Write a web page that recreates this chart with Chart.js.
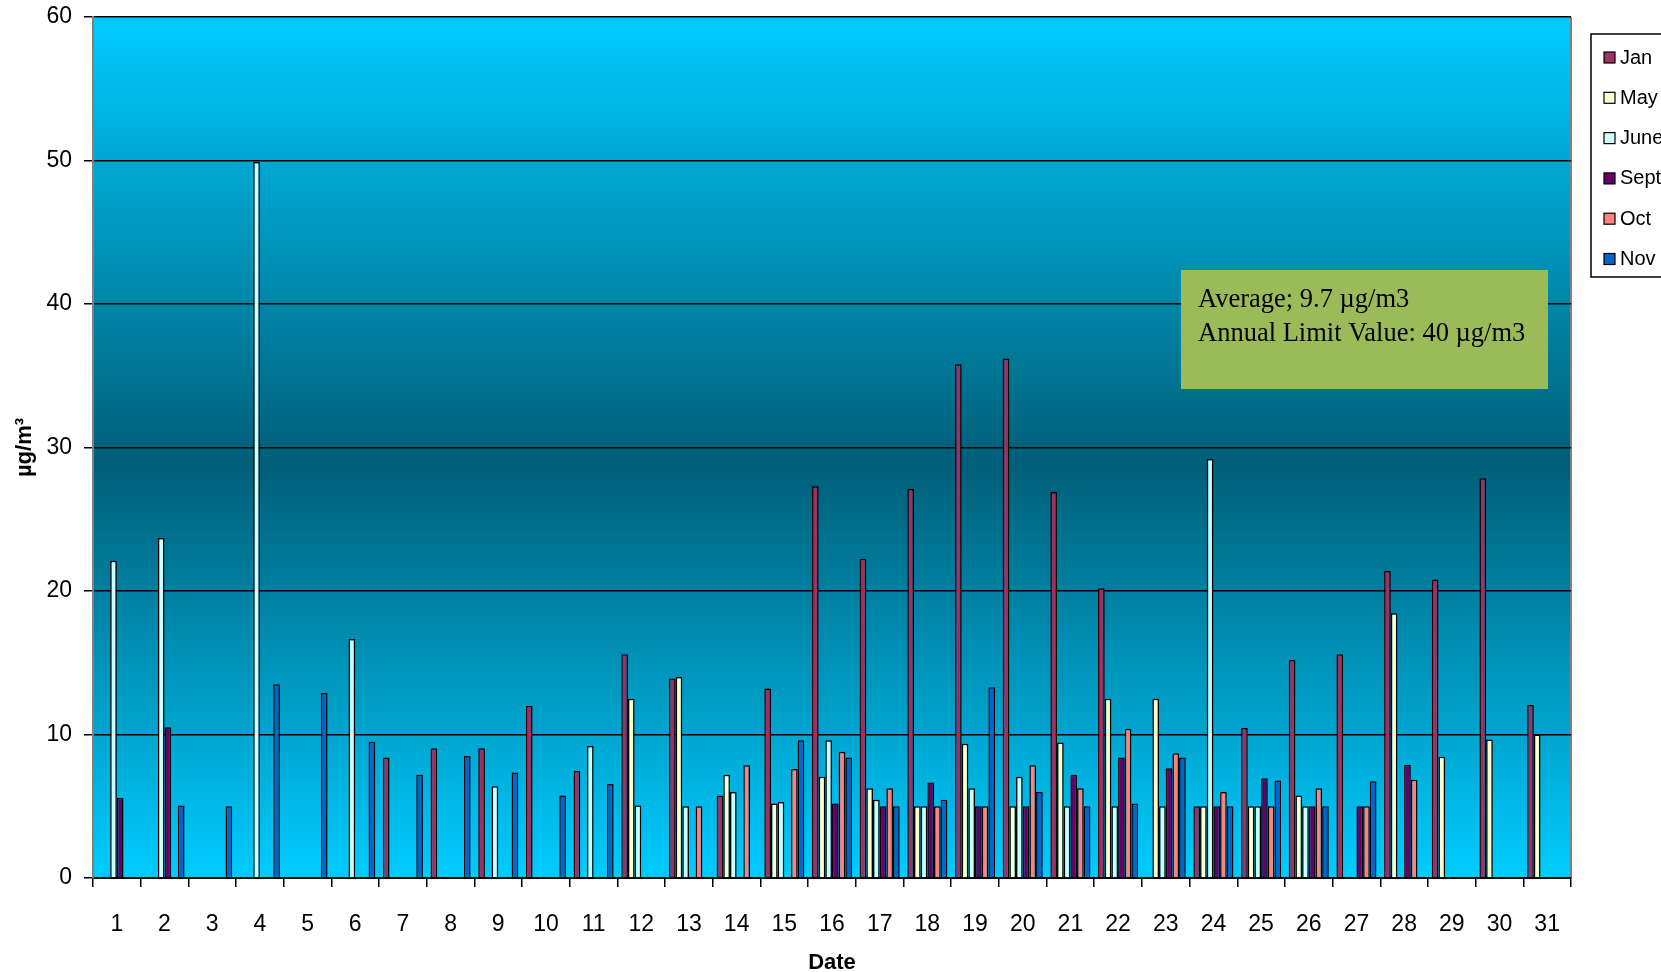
<!DOCTYPE html>
<html>
<head>
<meta charset="utf-8">
<script src="https://cdn.jsdelivr.net/npm/chart.js@4.4.1/dist/chart.umd.min.js"></script>
<style>
  html, body { margin: 0; padding: 0; background: #fff; }
  #wrap { width: 1661px; height: 972px; }
</style>
</head>
<body>
<div id="wrap"><canvas id="grafico" width="1661" height="972"></canvas></div>
<script>
const dates = ['1','2','3','4','5','6','7','8','9','10','11','12','13','14','15','16',
  '17','18','19','20','21','22','23','24','25','26','27','28','29','30','31'];

const jan  = [null, null, null, null, null, null, 8.4, 9.05, 9.05, 12.0, 7.45, 15.6, 13.9, 5.75, 13.2, 27.3,
  22.25, 27.1, 35.8, 36.2, 26.9, 20.2, null, 5.0, 10.45, 15.2, 15.6, 21.4, 20.8, 27.85, 12.05];
const may  = [null, null, null, null, null, null, null, null, null, null, null, 12.5, 14.0, 7.2, 5.2, 7.05,
  6.25, 5.0, 9.35, 5.0, 9.45, 12.5, 12.5, 5.0, 5.0, 5.75, null, 18.45, 8.45, 9.65, 10.0];
const june = [22.1, 23.7, null, 49.9, null, 16.65, null, null, 6.4, null, 9.2, 5.05, 5.0, 6.0, 5.3, 9.6,
  5.45, 5.0, 6.25, 7.05, 5.0, 5.0, 5.0, 29.2, 5.0, 5.0, null, null, null, null, null];
const sept = [5.6, 10.5, null, null, null, null, null, null, null, null, null, null, null, null, null, 5.2,
  5.0, 6.65, 5.0, 5.0, 7.2, 8.4, 7.65, 5.0, 6.95, 5.0, 5.0, 7.9, null, null, null];
const oct  = [null, null, null, null, null, null, null, null, null, null, null, null, 5.0, 7.85, 7.6, 8.8,
  6.25, 5.0, 5.0, 7.85, 6.25, 10.4, 8.7, 6.0, 5.0, 6.25, 5.0, 6.85, null, null, null];
const nov  = [null, 5.05, 5.0, 13.5, 12.9, 9.5, 7.2, 8.5, 7.35, 5.75, 6.55, null, null, null, 9.6, 8.4,
  5.0, 5.45, 13.3, 6.0, 5.0, 5.2, 8.4, 5.0, 6.8, 5.0, 6.75, null, null, null, null];

const yTicks = [0, 10, 20, 30, 40, 50, 60];
const noteLines = ['Average; 9.7 µg/m3', 'Annual Limit Value: 40 µg/m3'];

const series = [
  { label: 'Jan',  data: jan,  color: '#993366' },
  { label: 'May',  data: may,  color: '#FFFFCC' },
  { label: 'June', data: june, color: '#CCFFFF' },
  { label: 'Sept', data: sept, color: '#660066' },
  { label: 'Oct',  data: oct,  color: '#FF8080' },
  { label: 'Nov',  data: nov,  color: '#0066CC' }
];

const sans = '"Liberation Sans", Arial, sans-serif';
const serif = '"Liberation Serif", "Times New Roman", serif';

// fondo degradado del area de trazado
const fondo = {
  id: 'fondo',
  beforeDraw(chart) {
    const a = chart.chartArea;
    const ctx = chart.ctx;
    const g = ctx.createLinearGradient(0, a.top, 0, a.bottom);
    g.addColorStop(0, '#00CCFF');
    g.addColorStop(0.52, '#005E78');
    g.addColorStop(1, '#00CCFF');
    ctx.save();
    ctx.fillStyle = g;
    ctx.fillRect(a.left, a.top, a.right - a.left, a.bottom - a.top);
    ctx.strokeStyle = '#808080';
    ctx.lineWidth = 2;
    ctx.beginPath();
    ctx.moveTo(a.right, a.top);
    ctx.lineTo(a.right, a.bottom);
    ctx.stroke();
    ctx.restore();
  }
};

// leyenda y cuadro de texto
const extras = {
  id: 'extras',
  afterDraw(chart) {
    const ctx = chart.ctx;
    ctx.save();
    // cuadro verde
    ctx.fillStyle = '#9BBB59';
    ctx.fillRect(1181, 270, 367, 119);
    ctx.fillStyle = '#000';
    ctx.font = '26.5px ' + serif;
    ctx.textBaseline = 'alphabetic';
    ctx.textAlign = 'left';
    ctx.fillText(noteLines[0], 1198, 307);
    ctx.fillText(noteLines[1], 1198, 341);

    // leyenda
    ctx.fillStyle = '#fff';
    ctx.fillRect(1591, 34, 80, 243);
    ctx.strokeStyle = '#000';
    ctx.lineWidth = 1.5;
    ctx.strokeRect(1591, 34, 80, 243);
    ctx.font = '20px ' + sans;
    ctx.textBaseline = 'middle';
    series.forEach((s, i) => {
      const y = 58 + i * 40.3;
      ctx.fillStyle = s.color;
      ctx.fillRect(1604, y - 6, 11, 11);
      ctx.strokeStyle = '#000';
      ctx.lineWidth = 1.2;
      ctx.strokeRect(1604, y - 6, 11, 11);
      ctx.fillStyle = '#000';
      ctx.fillText(s.label, 1620, y);
    });
    ctx.restore();
  }
};

new Chart(document.getElementById('grafico'), {
  type: 'bar',
  data: {
    labels: dates,
    datasets: series.map(s => ({
      label: s.label,
      data: s.data,
      backgroundColor: s.color,
      borderColor: '#000',
      borderWidth: 1.5,
      categoryPercentage: 0.84,
      barPercentage: 1.0
    }))
  },
  options: {
    responsive: false,
    animation: false,
    layout: { padding: { top: 17, right: 90, bottom: 0, left: 0 } },
    plugins: {
      legend: { display: false },
      tooltip: { enabled: false }
    },
    scales: {
      x: {
        offset: true,
        grid: { offset: true, drawOnChartArea: false, drawTicks: true, tickLength: 9, color: '#000', lineWidth: 1.5 },
        border: { color: '#000', width: 2 },
        ticks: { color: '#000', font: { family: sans, size: 23 }, padding: 24, maxRotation: 0, autoSkip: false },
        title: { display: true, text: 'Date', color: '#000', font: { family: sans, size: 22, weight: 'bold', lineHeight: 1.0 }, padding: { top: 0, bottom: -2 } },
        afterFit(scale) {
          scale.height = 94;
          scale.paddingLeft = 0;
          scale.paddingRight = 0;
        }
      },
      y: {
        min: 0,
        max: 60,
        afterBuildTicks(scale) { scale.ticks = yTicks.map(v => ({ value: v })); },
        grid: { color: '#000', lineWidth: 1.5, drawTicks: true, tickLength: 9 },
        border: { color: '#808080', width: 2 },
        ticks: { color: '#000', font: { family: sans, size: 23 }, padding: 12 },
        title: { display: true, text: 'µg/m³', color: '#000', font: { family: sans, size: 22, weight: 'bold' }, padding: { top: 12, bottom: 0 } },
        afterFit(scale) {
          scale.width = 93;
          scale.paddingTop = 0;
          scale.paddingBottom = 0;
        }
      }
    }
  },
  plugins: [fondo, extras]
});
</script>
</body>
</html>
